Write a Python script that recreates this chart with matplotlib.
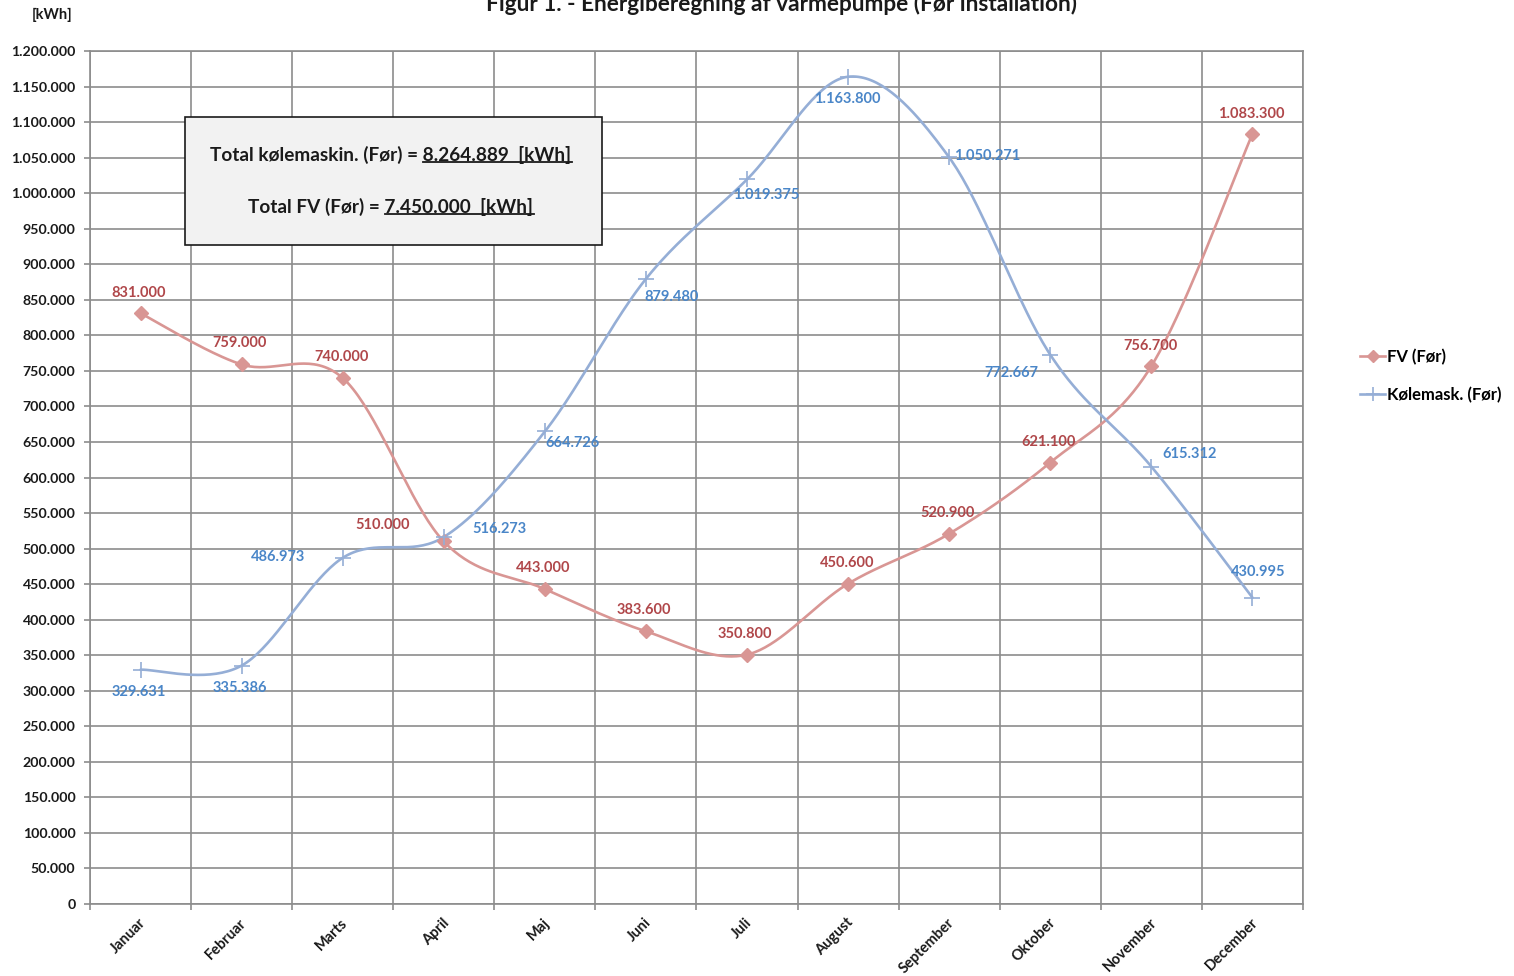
import numpy as np
import matplotlib
matplotlib.use("Agg")
import matplotlib.pyplot as plt
from matplotlib.lines import Line2D
from matplotlib.patches import Rectangle
from matplotlib.ticker import FuncFormatter, MultipleLocator

# ---------------- data ----------------
months = ["Januar", "Februar", "Marts", "April", "Maj", "Juni", "Juli",
          "August", "September", "Oktober", "November", "December"]
fv_before = [831000, 759000, 740000, 510000, 443000, 383600,
             350800, 450600, 520900, 621100, 756700, 1083300]
cooling_before = [329631, 335386, 486973, 516273, 664726, 879480,
                  1019375, 1163800, 1050271, 772667, 615312, 430995]
series_names = ["FV (Før)", "Kølemask. (Før)"]
title = "Figur 1. - Energiberegning af varmepumpe (Før installation)"
unit_label = "[kWh]"
box_lines = [("Total kølemaskin. (Før) = ", "8.264.889  [kWh]"),
             ("Total FV (Før) = ", "7.450.000  [kWh]")]

# label offsets in pixels (dx, dy) relative to each point
fv_offsets = [(-2, 20), (-2, 21), (-1, 21), (-61, 16), (-2, 21), (-2, 21),
              (-2, 21), (-1, 21), (-2, 21), (-2, 21), (-1, 20), (-1, 20)]
cool_offsets = [(-2, -22), (-2, -22), (-65, 1), (56, 8), (28, -12), (26, -18),
                (19, -16), (-1, -22), (38, 1), (-39, -18), (38, 13), (6, 26)]

FONT = "Lato"
FV_LINE = "#D99694"
FV_TEXT = "#B0474A"
CO_LINE = "#95AED6"
CO_TEXT = "#4A86C8"
GRID = "#8C8C8C"
TXT = "#1a1a1a"


def thousands(v, pos=None):
    v = int(round(v))
    if v == 0:
        return "0"
    return f"{v:,}".replace(",", ".")


def smooth(xs, ys, n=40):
    xs = np.asarray(xs, float)
    ys = np.asarray(ys, float)
    px = np.concatenate([[xs[0]], xs, [xs[-1]]])
    py = np.concatenate([[ys[0]], ys, [ys[-1]]])
    ox, oy = [], []
    t = np.linspace(0, 1, n)
    for i in range(1, len(xs)):
        p0 = np.array([px[i], py[i]])
        p3 = np.array([px[i + 1], py[i + 1]])
        c1 = p0 + (np.array([px[i + 1], py[i + 1]]) - np.array([px[i - 1], py[i - 1]])) / 6
        c2 = p3 - (np.array([px[i + 2], py[i + 2]]) - np.array([px[i], py[i]])) / 6
        b = ((1 - t) ** 3)[:, None] * p0 + (3 * (1 - t) ** 2 * t)[:, None] * c1 \
            + (3 * (1 - t) * t ** 2)[:, None] * c2 + (t ** 3)[:, None] * p3
        ox.extend(b[:, 0])
        oy.extend(b[:, 1])
    return np.array(ox), np.array(oy)


W, H = 1514, 976
fig = plt.figure(figsize=(W / 100, H / 100), dpi=100)
ax = fig.add_axes([90 / W, (H - 904) / H, (1303 - 90) / W, (904 - 51) / H])

x = np.arange(len(months))

# lines
sx, sy = smooth(x, fv_before)
ax.plot(sx, sy, color=FV_LINE, lw=1.9, solid_capstyle="round", zorder=3)
ax.plot(x, fv_before, ls="none", marker="D", ms=7, color=FV_LINE,
        mec=FV_LINE, zorder=4)
sx, sy = smooth(x, cooling_before)
ax.plot(sx, sy, color=CO_LINE, lw=1.9, solid_capstyle="round", zorder=3)
ax.plot(x, cooling_before, ls="none", marker="+", ms=11, mew=1.2,
        color=CO_LINE, zorder=4)

LBL = 10.5
# data labels
for xi, v, (dx, dy) in zip(x, fv_before, fv_offsets):
    ax.annotate(thousands(v), (xi, v), xytext=(dx, dy),
                textcoords="offset pixels", ha="center", va="center",
                fontsize=LBL, fontweight="bold", color=FV_TEXT,
                family=FONT, zorder=5)
for xi, v, (dx, dy) in zip(x, cooling_before, cool_offsets):
    ax.annotate(thousands(v), (xi, v), xytext=(dx, dy),
                textcoords="offset pixels", ha="center", va="center",
                fontsize=LBL, fontweight="bold", color=CO_TEXT,
                family=FONT, zorder=5)

# axes styling
ax.set_xlim(-0.5, len(months) - 0.5)
ax.set_ylim(0, 1200000)
ax.yaxis.set_major_locator(MultipleLocator(50000))
ax.yaxis.set_major_formatter(FuncFormatter(thousands))
ax.set_xticks(x + 0.03)
ax.set_xticklabels(months, rotation=45, ha="right", va="center",
                   rotation_mode="anchor", fontsize=10.5, fontweight="bold",
                   family=FONT, color=TXT)
ax.set_xticks(np.arange(-0.5, len(months)), minor=True)
ax.tick_params(axis="x", which="major", length=0, pad=12)
ax.tick_params(axis="x", which="minor", length=4.5, color=GRID, width=1.2)
ax.tick_params(axis="y", length=4.5, color=GRID, width=1.2, pad=6)
for lbl in ax.get_yticklabels():
    lbl.set_fontweight("bold")
    lbl.set_fontsize(10.2)
    lbl.set_family(FONT)
    lbl.set_color(TXT)
ax.grid(True, which="major", axis="y", color=GRID, lw=1.2)
ax.grid(True, which="minor", axis="x", color=GRID, lw=1.2)
ax.set_axisbelow(True)
for s in ax.spines.values():
    s.set_color(GRID)
    s.set_linewidth(1.2)

# title and unit
fig.text(782 / W, 1 - 4 / H, title, ha="center", va="center",
         fontsize=16.3, fontweight="bold", family=FONT, color=TXT)
fig.text(52 / W, 1 - 15 / H, unit_label, ha="center", va="center",
         fontsize=10.5, fontweight="bold", family=FONT, color=TXT)

# info box
box = Rectangle((185 / W, 1 - 245 / H), (602 - 185) / W, (245 - 117) / H,
                transform=fig.transFigure, facecolor="#F2F2F2",
                edgecolor=TXT, lw=1.2, zorder=6)
fig.patches.append(box)

legend_handles = [
    Line2D([], [], color=FV_LINE, lw=1.9, marker="D", ms=6),
    Line2D([], [], color=CO_LINE, lw=1.9, marker="+", ms=10, mew=1.2),
]
fig.legend(legend_handles, series_names, loc="center left",
           bbox_to_anchor=(1345 / W, 1 - 376 / H), frameon=False,
           handlelength=1.5, handletextpad=0.1, labelspacing=1.3,
           prop={"family": FONT, "weight": "bold", "size": 12})

fig.canvas.draw()
renderer = fig.canvas.get_renderer()
line_y = [155, 207]
BOXFS = 13.7
for (pre, und), yy in zip(box_lines, line_y):
    full = fig.text(391 / W, 1 - yy / H, pre + und, ha="center", va="center",
                    fontsize=BOXFS, fontweight="bold", family=FONT,
                    color=TXT, zorder=7)
    tmp = fig.text(0, 0, und, fontsize=BOXFS, fontweight="bold", family=FONT)
    bb = full.get_window_extent(renderer)
    w2 = tmp.get_window_extent(renderer).width
    tmp.remove()
    uy = bb.y0 + 2
    fig.add_artist(Line2D([(bb.x1 - w2) / W, bb.x1 / W], [uy / H, uy / H],
                          transform=fig.transFigure, color=TXT,
                          lw=1.3, zorder=7))

fig.savefig("out.png", dpi=100)
